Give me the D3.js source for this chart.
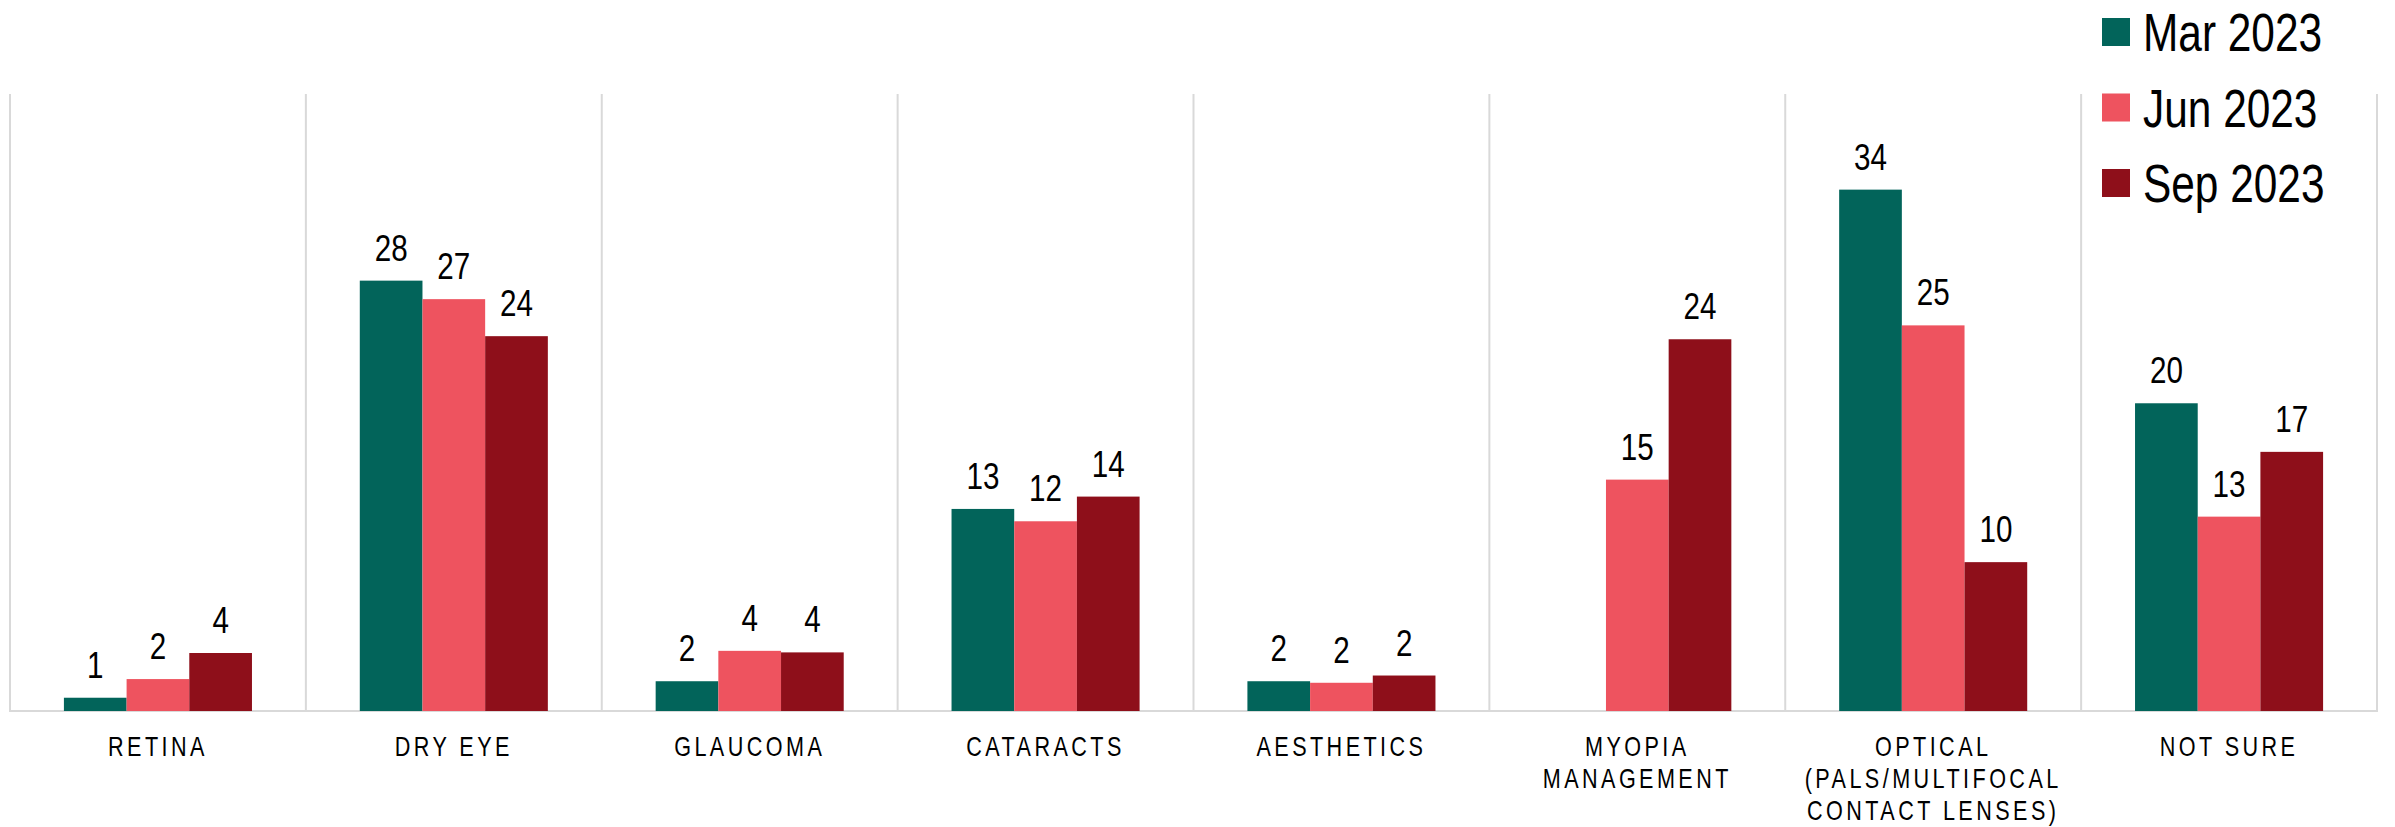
<!DOCTYPE html>
<meta charset="utf-8">
<style>
body { margin: 0; background: #fff; }
.cat, .val, .legend text {
  font-family: "Liberation Sans", Arial, sans-serif;
  fill: #000;
}
.cat { font-size: 27px; letter-spacing: 4.3px; }
.val { font-size: 37px; }
.legend text { font-size: 53px; }
.grid line { stroke: #d9d9d9; stroke-width: 2px; }
</style>
<svg width="2395" height="827"></svg>
<script src="https://d3js.org/d3.v7.min.js"></script>
<script>

var categories = ["Retina", "Dry eye", "Glaucoma", "Cataracts", "Aesthetics", "Myopia management", "Optical", "Not sure"];
var tickLabels = [
  ["RETINA"],
  ["DRY EYE"],
  ["GLAUCOMA"],
  ["CATARACTS"],
  ["AESTHETICS"],
  ["MYOPIA", "MANAGEMENT"],
  ["OPTICAL", "(PALS/MULTIFOCAL", "CONTACT LENSES)"],
  ["NOT SURE"]
];
var series = ["Mar 2023", "Jun 2023", "Sep 2023"];
var colors = ["#02645a", "#ee535f", "#8e0f1a"];

// percent values (null = no bar)
var mar2023 = [0.86, 27.9, 1.93, 13.1, 1.93, null, 33.8, 19.95];
var jun2023 = [2.07, 26.7, 3.9, 12.3, 1.83, 15.0, 25.0, 12.6];
var sep2023 = [3.76, 24.3, 3.8, 13.9, 2.3, 24.1, 9.65, 16.8];
var seriesValues = [mar2023, jun2023, sep2023];

var svg = d3.select("svg"),
    width = +svg.attr("width"),
    height = +svg.attr("height");

// the reference font is a narrow sans; squeeze Liberation Sans to match
var narrow = 0.8;
var plotLeft = 10, plotRight = 2377, plotBottom = 711, plotTop = 94;

var x0 = d3.scaleBand()
    .domain(categories)
    .range([plotLeft, plotRight])
    .padding(0);

var x1 = d3.scaleBand()
    .domain(series)
    .range([0, x0.bandwidth()])
    .paddingInner(0)
    .paddingOuter(0.86);

var y = d3.scaleLinear()
    .domain([0, 40])
    .range([plotBottom, plotTop]);

var color = d3.scaleOrdinal().domain(series).range(colors);

// gridlines between categories
var grid = svg.append("g").attr("class", "grid");
var bounds = categories.map(function(c) { return x0(c); }).concat([plotRight]);
grid.selectAll("line.v")
    .data(bounds)
  .enter().append("line")
    .attr("class", "v")
    .attr("x1", function(d) { return d; })
    .attr("x2", function(d) { return d; })
    .attr("y1", y(40))
    .attr("y2", y(0));
grid.append("line")
    .attr("x1", plotLeft - 1)
    .attr("x2", plotRight + 1)
    .attr("y1", y(0))
    .attr("y2", y(0));

var rows = [];
categories.forEach(function(c, i) {
  series.forEach(function(s, j) {
    var v = seriesValues[j][i];
    if (v != null) rows.push({cat: c, series: s, value: v});
  });
});

svg.append("g")
  .selectAll("rect")
  .data(rows)
  .enter().append("rect")
    .attr("x", function(d) { return x0(d.cat) + x1(d.series); })
    .attr("y", function(d) { return y(d.value); })
    .attr("width", x1.bandwidth())
    .attr("height", function(d) { return y(0) - y(d.value); })
    .attr("fill", function(d) { return color(d.series); });

svg.append("g")
  .selectAll("text")
  .data(rows)
  .enter().append("text")
    .attr("class", "val")
    .attr("text-anchor", "middle")
    .attr("transform", function(d) {
      var cx = x0(d.cat) + x1(d.series) + x1.bandwidth() / 2;
      return "translate(" + cx + "," + (y(d.value) - 20) + ") scale(" + narrow + ",1)";
    })
    .text(function(d) { return Math.round(d.value); });

// category labels
var cats = svg.append("g")
  .selectAll("text")
  .data(categories)
  .enter().append("text")
    .attr("class", "cat")
    .attr("text-anchor", "middle")
    .attr("transform", function(d) {
      return "translate(" + (x0(d) + x0.bandwidth() / 2) + ",756) scale(" + narrow + ",1)";
    });
cats.selectAll("tspan")
    .data(function(d, i) { return tickLabels[i]; })
  .enter().append("tspan")
    .attr("x", 0)
    .attr("y", function(d, i) { return i * 32; })
    .text(function(d) { return d; });

// legend
var legend = svg.append("g")
    .attr("class", "legend")
  .selectAll("g")
  .data(series)
  .enter().append("g")
    .attr("transform", function(d, i) { return "translate(2102," + (32 + i * 75.5) + ")"; });
legend.append("rect")
    .attr("x", 0)
    .attr("y", -14)
    .attr("width", 28)
    .attr("height", 28)
    .attr("fill", function(d) { return color(d); });
legend.append("text")
    .attr("transform", "translate(41,19) scale(" + narrow + ",1)")
    .text(function(d) { return d; });

</script>
